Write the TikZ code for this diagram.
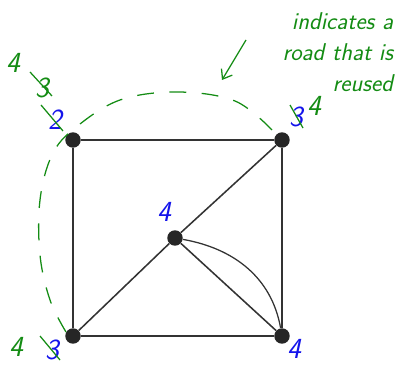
\documentclass[tikz,border=0pt]{standalone}
\usepackage{tikz}
\usetikzlibrary{arrows.meta}
\definecolor{penblue}{RGB}{20,20,235}
\definecolor{pengreen}{RGB}{20,140,20}

\begin{document}
\begin{tikzpicture}[x=0.025cm, y=-0.025cm, every node/.style={font=\huge\sffamily\itshape},
  dot/.style={circle, fill=black!85, inner sep=0pt, minimum size=11pt},
  road/.style={line width=1.1pt, black!80},
  reuse/.style={pengreen, line width=0.9pt, dash pattern=on 12pt off 11pt},
  ink/.style={pengreen, line width=0.9pt}]
  \useasboundingbox (0,0) rectangle (405,365);
  % Vertices
  \foreach \n/\x/\y in {tl/73/140, tr/282/140, bl/73/336, br/282/336, mid/175/238} {
    \node[dot] (\n) at (\x,\y) {};
  }
  % Roads
  \draw[road] (tl) -- (tr) -- (br) -- (bl) -- (tl);
  \draw[road] (tr) -- (mid) -- (bl);
  \draw[road] (mid) -- (br);
  \draw[road, line width=0.9pt] (mid) to[out=-10, in=100] (br);
  % Reused road (dashed)
  \draw[reuse] plot[smooth, tension=0.6] coordinates {(272,130) (235,101) (178,92) (120,100) (75,128)
    (52,155) (40,200) (40,255) (50,300) (66,332)};
  % Degree labels (blue)
  \node[penblue] (l2) at (55,120) {2};
  \node[penblue] (l3a) at (296,117) {3};
  \node[penblue] (l4a) at (164,212) {4};
  \node[penblue] (l4b) at (294,349) {4};
  \node[penblue] (l3b) at (52,350) {3};
  % Updated labels (green)
  \node[pengreen] (g4a) at (13,63) {4};
  \node[pengreen] (g3) at (42,88) {3};
  \node[pengreen] (g4b) at (314,106) {4};
  \node[pengreen] (g4c) at (16,347) {4};
  % Strike-outs
  \draw[ink] (30,72) -- (52,96);
  \draw[ink] (41,105) -- (63,131);
  \draw[ink] (290,105) -- (303,128);
  \draw[ink] (40,336) -- (60,360);
  % Note
  \node[pengreen, font=\LARGE\sffamily\itshape, align=right, anchor=north east] (note) at (398,8) {indicates a\\road that is\\reused};
  \coordinate (tail) at (246,40);
  \coordinate (head) at (222,80);
  \draw[ink, -{Straight Barb[length=6pt, width=9pt]}] (tail) -- (head);
\end{tikzpicture}
\end{document}
